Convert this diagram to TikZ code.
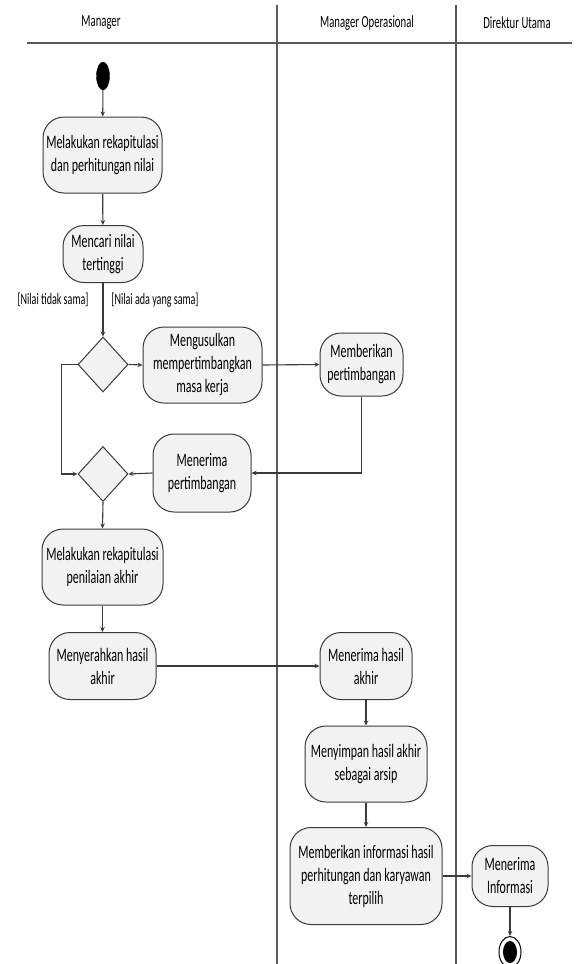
\documentclass[tikz,border=0pt]{standalone}
\usepackage{fontspec}
\setmainfont[FakeStretch=0.63]{Carlito}
\usetikzlibrary{shapes.geometric,arrows.meta}
\definecolor{linec}{HTML}{3A3A3A}
\definecolor{lanec}{HTML}{5A5A5A}
\definecolor{nodefill}{HTML}{F2F2F2}
\begin{document}
\begin{tikzpicture}[x=1pt,y=-1pt,
  act/.style={draw=linec, fill=nodefill, rounded corners=21pt, line width=1pt, align=center, font=\fontsize{19}{23}\selectfont, inner sep=2pt},
  dec/.style={draw=linec, fill=nodefill, diamond, inner sep=0pt, minimum width=50pt, minimum height=55pt, line width=1pt},
  flow/.style={draw=linec, line width=1.1pt, -{Stealth[length=5pt,width=4.5pt]}},
  lane/.style={draw=lanec, line width=1.5pt},
  hdr/.style={font=\fontsize{17}{18}\selectfont, inner sep=0pt},
  guard/.style={font=\fontsize{16}{16}\selectfont, inner sep=0pt}]
\useasboundingbox[fill=white] (0,0) rectangle (578,964);

% swimlanes
\coordinate (hl) at (27,43);
\coordinate (hr) at (572,43);
\coordinate (v1t) at (277,5);
\coordinate (v1b) at (277,964);
\coordinate (v2t) at (456,5);
\coordinate (v2b) at (456,964);
\draw[lane] (hl) -- (hr);
\draw[lane] (v1t) -- (v1b);
\draw[lane] (v2t) -- (v2b);
\node[hdr] (h1) at (101,23) {Manager};
\node[hdr] (h2) at (367,23) {Manager Operasional};
\node[hdr] (h3) at (517,23) {Direktur Utama};

% start
\node[ellipse, fill=black, draw=black, minimum width=13pt, minimum height=28pt, inner sep=0pt] (start) at (103,76) {};

% activities
\node[act, minimum width=119pt, minimum height=76pt] (n1) at (102.5,155) {Melakukan rekapitulasi\\dan perhitungan nilai};
\node[act, minimum width=80pt, minimum height=57pt] (n2) at (103,254) {Mencari nilai\\tertinggi};
\node[dec] (d1) at (103,364.5) {};
\node[act, minimum width=119pt, minimum height=76pt] (n3) at (202.5,365) {Mengusulkan\\mempertimbangkan\\masa kerja};
\node[act, minimum width=83pt, minimum height=63pt] (n4) at (361.5,364.5) {Memberikan\\pertimbangan};
\node[dec] (d2) at (103,474) {};
\node[act, minimum width=98pt, minimum height=78pt] (n5) at (202,473) {Menerima\\pertimbangan};
\node[act, minimum width=121pt, minimum height=76pt] (n6) at (102.5,567) {Melakukan rekapitulasi\\penilaian akhir};
\node[act, minimum width=107pt, minimum height=67pt] (n7) at (102.5,666) {Menyerahkan hasil\\akhir};
\node[act, minimum width=92pt, minimum height=67pt] (n8) at (366,666) {Menerima hasil\\akhir};
\node[act, minimum width=122pt, minimum height=76pt] (n9) at (366,764) {Menyimpan hasil akhir\\sebagai arsip};
\node[act, minimum width=152pt, minimum height=97pt] (n10) at (366,876) {Memberikan informasi hasil\\perhitungan dan karyawan\\terpilih};
\node[act, minimum width=76pt, minimum height=61pt] (n11) at (510,876) {Menerima\\Informasi};

% end
\node[ellipse, draw=black, line width=1pt, fill=white, minimum width=22pt, minimum height=31pt, inner sep=0pt] (endo) at (510,952) {};
\node[ellipse, fill=black, minimum width=14pt, minimum height=22pt, inner sep=0pt] (endi) at (510,952) {};

% guards
\node[guard] (g1) at (53,300) {[Nilai tidak sama]};
\node[guard] (g2) at (155,300) {[Nilai ada yang sama]};

% flows
\draw[flow] (start) -- (n1);
\draw[flow] (n1) -- (n2);
\draw[flow] (n2) -- (d1);
\draw[flow] (d1.east) -- (n3.west);
\draw[flow] (n3.east) -- (n4.west);
\draw[flow] (n4.south) |- (n5.east);
\draw[flow] (n5.west) -- (d2.east);
\draw[flow] (d1.west) -- ++(-16,0) |- (d2.west);
\draw[flow] (d2.south) -- (n6.north);
\draw[flow] (n6) -- (n7);
\draw[flow] (n7.east) -- (n8.west);
\draw[flow] (n8) -- (n9);
\draw[flow] (n9) -- (n10);
\draw[flow] (n10.east) -- (n11.west);
\draw[flow] (n11.south) -- (endo.north);
\end{tikzpicture}
\end{document}
